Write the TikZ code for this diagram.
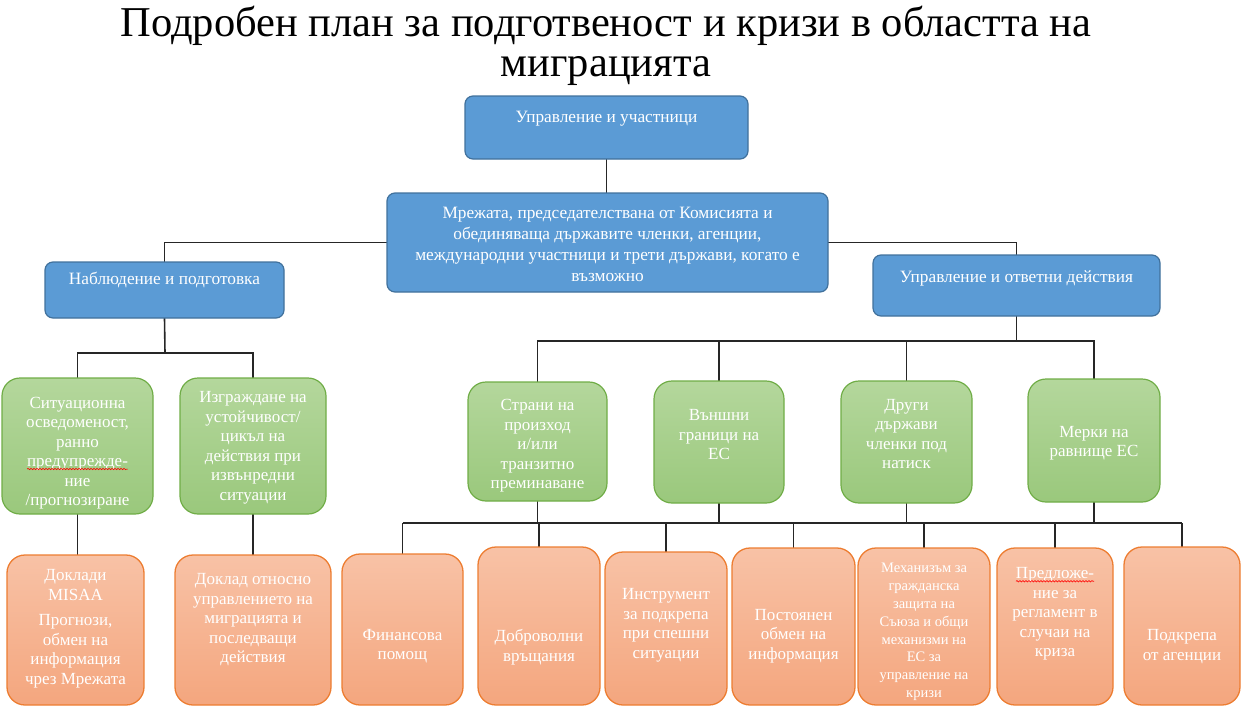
\documentclass[tikz,border=0pt]{standalone}
\usepackage{fontspec}
\setmainfont{Liberation Serif}
\usetikzlibrary{calc,decorations.pathmorphing}
\newcommand\redwave[1]{\tikz[baseline=(w.base)]{\node[inner sep=0pt,outer sep=0pt,text=white](w){#1};\draw[red,line width=0.6pt,decorate,decoration={snake,amplitude=0.7pt,segment length=3pt}] ([yshift=-2.5pt]w.base west) -- ([yshift=-2.5pt]w.base east);}}
\definecolor{bluefill}{RGB}{91,155,213}
\definecolor{bluebord}{RGB}{65,113,156}
\definecolor{greentop}{RGB}{180,215,156}
\definecolor{greenbot}{RGB}{154,200,124}
\definecolor{greenbord}{RGB}{112,173,71}
\definecolor{orangetop}{RGB}{248,194,166}
\definecolor{orangebot}{RGB}{244,166,126}
\definecolor{orangebord}{RGB}{237,125,49}
\definecolor{linec}{RGB}{38,38,38}
\pgfdeclarelayer{bg}
\pgfsetlayers{bg,main}
\tikzset{
  boxbase/.style={inner sep=0pt, outer sep=0pt},
  blueb/.style={boxbase, draw=bluebord, fill=bluefill, rounded corners=8pt, line width=1.2pt},
  greenb/.style={boxbase, draw=greenbord, top color=greentop, bottom color=greenbot, rounded corners=18pt, line width=1.2pt},
  orangeb/.style={boxbase, draw=orangebord, top color=orangetop, bottom color=orangebot, rounded corners=18pt, line width=1.3pt},
  btext/.style={text=white, align=center, inner sep=0pt, font=\fontsize{17.3}{21}\selectfont},
  gtext/.style={text=white, align=center, inner sep=0pt, font=\fontsize{17}{19.5}\selectfont},
  otext/.style={text=white, align=center, inner sep=0pt, font=\fontsize{17}{19.5}\selectfont},
  osmall/.style={text=white, align=center, inner sep=0pt, font=\fontsize{14.5}{17.8}\selectfont},
  conn/.style={draw=linec, line width=1.6pt},
  titlet/.style={align=center, inner sep=0pt, font=\fontsize{42.5}{40}\selectfont}
}
% style, name, x1, y1, x2, y2, text y, text style, text
\newcommand\mkbox[9]{%
  \node[#1, minimum width={#5-#3}, minimum height={#6-#4}] (#2) at ({(#3+#5)/2},{(#4+#6)/2}) {};
  \node[#8] (#2t) at ({(#3+#5)/2},#7) {#9};
}
\begin{document}
\begin{tikzpicture}[x=1pt,y=-1pt]
\useasboundingbox (0,0) rectangle (1253,707);
\node[titlet] (title) at (606,46) {Подробен план за подготвеност и кризи в областта на\\миграцията};

\mkbox{blueb}{top}{465}{96}{748}{159}{119}{btext}{Управление и участници}
\mkbox{blueb}{net}{387}{193}{828}{292}{244.5}{btext}{Мрежата, председателствана от Комисията и\\обединяваща държавите членки, агенции,\\международни участници и трети държави, когато е\\възможно}
\mkbox{blueb}{obs}{45}{262}{284}{318}{280}{btext}{Наблюдение и подготовка}
\mkbox{blueb}{mgmt}{873}{255}{1160}{316}{278}{btext}{Управление и ответни действия}

\mkbox{greenb}{g1}{2}{378}{153}{514}{453}{gtext}{Ситуационна\\осведоменост,\\ранно\\\redwave{предупрежде-}\\ние\\/прогнозиране}
\mkbox{greenb}{g2}{180}{378}{326}{514}{448}{gtext}{Изграждане на\\устойчивост/\\цикъл на\\действия при\\извънредни\\ситуации}
\mkbox{greenb}{g3}{468}{382}{607}{501}{446}{gtext}{Страни на\\произход\\и/или\\транзитно\\преминаване}
\mkbox{greenb}{g4}{654}{381}{784}{503}{435}{gtext}{Външни\\граници на\\ЕС}
\mkbox{greenb}{g5}{841}{381}{972}{503}{434}{gtext}{Други\\държави\\членки под\\натиск}
\mkbox{greenb}{g6}{1028}{379}{1160}{502}{443}{gtext}{Мерки на\\равнище ЕС}

\mkbox{orangeb}{o1}{7}{555}{144}{705}{628.5}{otext}{Доклади\\MISAA\\[6pt]Прогнози,\\обмен на\\информация\\чрез Мрежата}
\mkbox{orangeb}{o2}{175}{555}{331}{705}{620}{otext}{Доклад относно\\управлението на\\миграцията и\\последващи\\действия}
\mkbox{orangeb}{o3}{342}{554}{463}{705}{646}{otext}{Финансова\\помощ}
\mkbox{orangeb}{o4}{478}{547}{600}{705}{647}{otext}{Доброволни\\връщания}
\mkbox{orangeb}{o5}{605}{552}{727}{705}{625.5}{otext}{Инструмент\\за подкрепа\\при спешни\\ситуации}
\mkbox{orangeb}{o6}{732}{548}{855}{705}{636}{otext}{Постоянен\\обмен на\\информация}
\mkbox{orangeb}{o7}{858}{548}{990}{705}{632}{osmall}{Механизъм за\\гражданска\\защита на\\Съюза и общи\\механизми на\\ЕС за\\управление на\\кризи}
\mkbox{orangeb}{o8}{997}{548}{1113}{705}{614}{otext}{\redwave{Предложе-}\\ние за\\регламент в\\случаи на\\криза}
\mkbox{orangeb}{o9}{1124}{547}{1240}{705}{646.5}{otext}{Подкрепа\\от агенции}

\begin{pgfonlayer}{bg}
\draw[conn] (top.south) -- (top.south |- net.north);
\draw[conn] (net.west) -| (obs.north);
\draw[conn] (net.east) -| (mgmt.north);
\coordinate (j1) at (165,353);
\draw[conn] (obs.south) -- (j1);
\draw[conn] (g1.north) |- (j1) -| (g2.north);
\draw[conn] (g1.south) -- (g1.south |- o1.north);
\draw[conn] (g2.south) -- (g2.south |- o2.north);
\coordinate (j2) at (1016.5,341);
\draw[conn] (mgmt.south) -- (j2);
\draw[conn] (g3.north) |- (j2) -| (g6.north);
\draw[conn] (g4.north) -- (g4.north |- j2);
\draw[conn] (g5.north) -- (g5.north |- j2);
\coordinate (bus) at (0,523);
\draw[conn] (o3.north |- bus) -- (o9.north |- bus);
\foreach \g in {g3,g4,g5,g6} \draw[conn] (\g.south) -- (\g.south |- bus);
\foreach \o in {o3,o4,o5,o6,o7,o8,o9} \draw[conn] (\o.north) -- (\o.north |- bus);
\end{pgfonlayer}
\end{tikzpicture}
\end{document}
